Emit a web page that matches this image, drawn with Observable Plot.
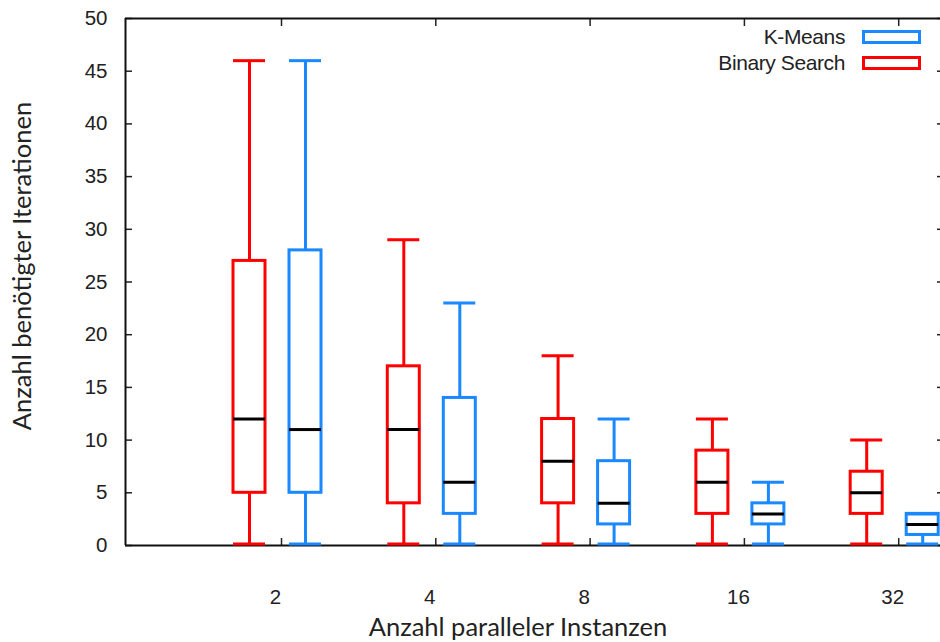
<!DOCTYPE html>
<html>
<head>
<meta charset="utf-8">
<script src="https://cdn.jsdelivr.net/npm/d3@7"></script>
<script src="https://cdn.jsdelivr.net/npm/@observablehq/plot@0.6"></script>
<style>
  html, body { margin: 0; padding: 0; background: #fff; }
  #wrap { position: relative; width: 940px; height: 642px; overflow: hidden; }
  .legend { position: absolute; left: 0; top: 0; width: 940px; height: 100px; font-family: "Liberation Sans", Arial, sans-serif; font-size: 21px; color: #222; }
  .row { position: absolute; white-space: nowrap; }
  .row span { position: absolute; letter-spacing: -0.4px; line-height: 24px; }
  .row i { position: absolute; left: 0; top: 0; width: 53px; height: 8px; border: 3px solid; box-sizing: content-box; }
</style>
</head>
<body>
<div id="wrap"></div>
<script>
// ---- data ----
const instances = ["2", "4", "8", "16", "32"];
const series = ["Binary Search", "K-Means"];
const colors = ["#ff0000", "#1a88ff"];
// Binary Search
const bsMin = [0, 0, 0, 0, 0];
const bsQ1 = [5, 4, 4, 3, 3];
const bsMed = [12, 11, 8, 6, 5];
const bsQ3 = [27, 17, 12, 9, 7];
const bsMax = [46, 29, 18, 12, 10];
// K-Means
const kmMin = [0, 0, 0, 0, 0];
const kmQ1 = [5, 3, 2, 2, 1];
const kmMed = [11, 6, 4, 3, 2];
const kmQ3 = [28, 14, 8, 4, 3];
const kmMax = [46, 23, 12, 6, 3];
const yTicks = [0, 5, 10, 15, 20, 25, 30, 35, 40, 45, 50];
const xTitle = "Anzahl paralleler Instanzen";
const yTitle = "Anzahl benötigter Iterationen";

// ---- build table ----
const pxPerUnit = 154.3;
const off = 28 / pxPerUnit;
const hw = 16 / pxPerUnit;
const stats = [
  {min: bsMin, q1: bsQ1, med: bsMed, q3: bsQ3, max: bsMax, sign: -1},
  {min: kmMin, q1: kmQ1, med: kmMed, q3: kmQ3, max: kmMax, sign: 1}
];
const rows = [];
stats.forEach((s, si) => {
  instances.forEach((lab, i) => {
    const c = (i + 1) + s.sign * off;
    rows.push({series: series[si], color: colors[si], c, x1: c - hw, x2: c + hw,
      min: s.min[i], q1: s.q1[i], med: s.med[i], q3: s.q3[i], max: s.max[i]});
  });
});
const positions = instances.map((d, i) => i + 1);
const x0 = 1 - 152 / pxPerUnit;
const x1 = x0 + 815 / pxPerUnit;

const font = "Liberation Sans, Arial, sans-serif";
const chart = Plot.plot({
  width: 940,
  height: 642,
  marginLeft: 125,
  marginRight: 0,
  marginTop: 18,
  marginBottom: 97,
  style: {fontFamily: font, fontSize: "20.5px", color: "#222", background: "#fff"},
  x: {type: "linear", domain: [x0, x1]},
  y: {domain: [0, 50]},
  marks: [
    Plot.axisY({ticks: yTicks, tickSize: -7, tickPadding: 25, label: null, stroke: "#222", strokeWidth: 1.5}),
    Plot.axisY({anchor: "right", ticks: yTicks, tickSize: -4, tickPadding: 0, text: null, label: null, stroke: "#222", strokeWidth: 1.5}),
    Plot.axisX({ticks: positions, tickSize: -7, text: null, label: null, dx: 4, stroke: "#222", strokeWidth: 1.5}),
    Plot.axisX({anchor: "top", ticks: positions, tickSize: -7, text: null, label: null, dx: 4, stroke: "#222", strokeWidth: 1.5}),
    Plot.axisX({ticks: positions, tickSize: 0, tickPadding: 44, tickFormat: (d) => instances[d - 1], label: null, dx: -2}),
    Plot.ruleX([x0], {stroke: "#111", strokeWidth: 2}),
    Plot.ruleY([0, 50], {stroke: "#111", strokeWidth: 2}),
    Plot.text([xTitle], {frameAnchor: "bottom", lineAnchor: "middle", textAnchor: "middle", dy: 82, dx: -15, fontFamily: "Lato", fontSize: 25.5, fill: "#222"}),
    Plot.text([yTitle], {frameAnchor: "left", lineAnchor: "middle", textAnchor: "middle", rotate: -90, dx: -103, dy: -16, fontFamily: "Lato", fontSize: 25.5, fill: "#222"}),
    // whiskers
    Plot.ruleX(rows, {x: "c", y1: "q3", y2: "max", stroke: "color", strokeWidth: 3}),
    Plot.ruleX(rows, {x: "c", y1: "min", y2: "q1", stroke: "color", strokeWidth: 3}),
    Plot.ruleY(rows, {y: "max", x1: "x1", x2: "x2", stroke: "color", strokeWidth: 3}),
    Plot.ruleY(rows, {y: "min", x1: "x1", x2: "x2", stroke: "color", strokeWidth: 3, dy: -1.5}),
    // boxes
    Plot.rect(rows, {x1: "x1", x2: "x2", y1: "q1", y2: "q3", fill: "none", stroke: "color", strokeWidth: 3}),
    Plot.ruleY(rows, {y: "med", x1: "x1", x2: "x2", stroke: "#000", strokeWidth: 3})
  ]
});
const wrap = document.getElementById("wrap");
wrap.appendChild(chart);

// legend (K-Means first, as in the reference)
const legend = document.createElement("div");
legend.className = "legend";
const order = [1, 0];
order.forEach((si, k) => {
  const r = document.createElement("div");
  r.className = "row";
  r.style.left = "862px";
  r.style.top = (30 + k * 26) + "px";
  const sp = document.createElement("span");
  sp.textContent = series[si];
  sp.style.right = "17px";
  sp.style.top = "-5px";
  const box = document.createElement("i");
  box.style.borderColor = colors[si];
  r.appendChild(sp);
  r.appendChild(box);
  legend.appendChild(r);
});
wrap.appendChild(legend);
</script>
</body>
</html>
